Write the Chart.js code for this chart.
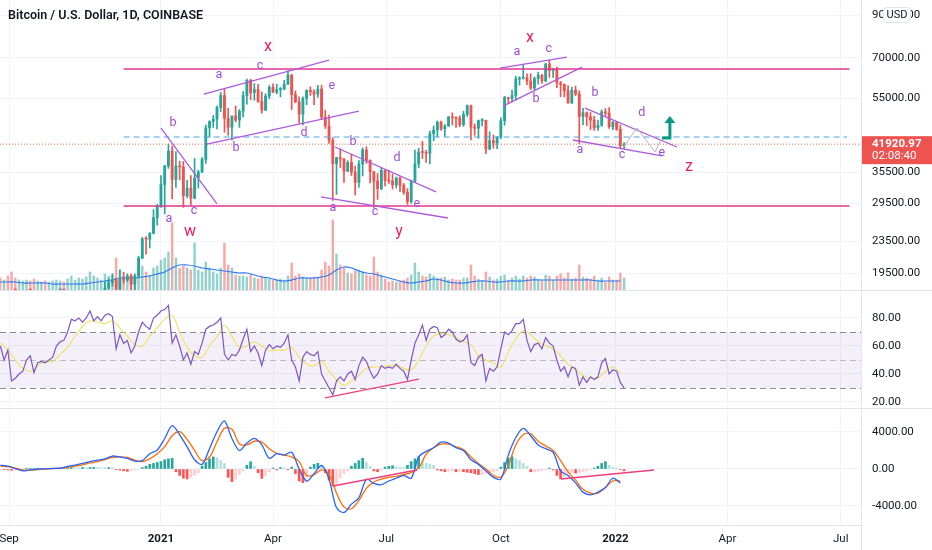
<!DOCTYPE html>
<html>
<head>
<meta charset="utf-8">
<title>BTCUSD 1D</title>
<script src="https://cdn.jsdelivr.net/npm/chart.js@4.4.1/dist/chart.umd.min.js"></script>
<style>
  body { margin: 0; width: 932px; height: 550px; overflow: hidden; background: #fff; font-family: Roboto, sans-serif; }
  .pane { position: absolute; left: 0; width: 932px; }
  .sep { position: absolute; left: 0; width: 932px; height: 1px; background: #e0e3eb; }
  #vsep { position: absolute; left: 861px; top: 0; width: 1px; height: 550px; background: #e0e3eb; }
  #title { position: absolute; left: 8px; top: 6px; line-height: 18px; font-size: 12.5px; font-weight: 600; color: #131722; }
  #usd { position: absolute; left: 883px; top: 7px; width: 28px; height: 16px; box-sizing: border-box;
         border: 1px solid #e0e3eb; border-radius: 4px; background: #fff; color: #131722;
         font-size: 11px; line-height: 14px; text-align: center; }
</style>
</head>
<body>
<div class="pane" style="top:0;height:290px"><canvas id="priceChart"></canvas></div>
<div class="sep" style="top:290px"></div>
<div class="pane" style="top:292px;height:116px"><canvas id="rsiChart"></canvas></div>
<div class="sep" style="top:408px"></div>
<div class="pane" style="top:409px;height:141px"><canvas id="macdChart"></canvas></div>
<div id="vsep"></div>
<div id="title">Bitcoin / U.S. Dollar, 1D, COINBASE</div>
<div id="usd">USD</div>
<script>
// Candles are 3-day bars; days are counted from 1 Jan 2021
const firstDay = -129;   // 25 Aug 2020
const stepDays = 3;

// [open, high, low, close]
const ohlc = [
  [11760,11800,11120,11330],[11330,11720,11280,11710],[11710,12090,11200,11410],[11410,11460,9880,10170],
  [10170,10400,9880,10130],[10130,10580,10010,10400],[10400,10800,10210,10680],[10680,11100,10660,10940],
  [10940,11180,10830,10920],[10920,10990,10140,10240],[10240,10790,10200,10730],[10730,10940,10630,10840],
  [10840,10930,10400,10570],[10570,10800,10500,10790],[10790,10950,10530,10920],[10920,11480,10870,11380],
  [11380,11720,11260,11430],[11430,11620,11250,11370],[11370,12000,11360,11920],[11920,13220,11900,12930],
  [12930,13350,12880,13070],[13070,13790,12920,13460],[13460,14080,13220,13740],[13740,14250,13240,14130],
  [14130,15960,14090,14830],[14830,15960,14720,15300],[15300,16480,15280,16320],[16320,16730,15800,16720],
  [16720,18480,16630,17820],[17820,18820,17700,18420],[18420,19420,18030,18730],[18730,18920,16330,17720],
  [17720,19860,17520,18790],[18790,19580,18330,18700],[18700,19410,18550,19170],[19170,19290,17650,18250],
  [18250,19400,17590,19170],[19170,21560,19000,21310],[21310,24100,21230,23870],[23870,24230,21820,23830],
  [23830,24800,22630,24680],[24680,28400,24600,27080],[27080,29300,25900,29000],[29000,34800,28800,33000],
  [33000,37000,27700,36820],[36820,41950,36300,40240],[40240,41400,30300,34000],[34000,40100,32400,36830],
  [36830,37900,33900,36630],[36630,37850,28800,30850],[30850,33800,30500,32290],[32290,34800,29200,30400],
  [30400,38500,30300,34300],[34300,35900,32300,35520],[35520,38700,35400,38290],[38290,47000,37400,46200],
  [46200,48200,43700,47970],[47970,49700,46300,48630],[48630,52600,45900,52120],[52120,57000,50900,55970],
  [55970,58300,45000,48890],[48890,51900,44200,46340],[46340,48400,43000,49590],[49590,52600,47800,48370],
  [48370,51500,46300,50970],[50970,57300,49300,55960],[55960,61700,53200,61240],[61240,61700,54600,56900],
  [56900,60100,54400,58030],[58030,59800,53700,54080],[54080,57200,50400,51290],[51290,56600,51200,55780],
  [55780,59400,54900,58800],[58800,60000,56900,57060],[57060,59800,56500,57990],[57990,58700,55500,58100],
  [58100,61200,57900,59860],[59860,64900,59800,63160],[63160,63500,51500,56250],[56250,57500,53600,53900],
  [53900,55500,47500,50100],[50100,55500,47000,55000],[55000,57900,53000,57750],[57750,58900,56000,57200],
  [57200,58000,53000,56400],[56400,59500,55300,58200],[58200,59500,48600,49200],[49200,51300,46000,46700],
  [46700,49800,42100,42900],[42900,43600,30000,37300],[37300,38800,31100,38700],[38700,40800,36500,38400],
  [38400,38500,33400,35700],[35700,38000,35600,37600],[37600,39500,34800,35500],[35500,36800,31000,33400],
  [33400,38000,32400,37300],[37300,41000,34700,40500],[40500,41300,37400,38100],[38100,38200,33300,35600],
  [35600,35700,28800,33700],[33700,35200,30200,32200],[32200,36400,32000,35900],[35900,36000,32700,33800],
  [33800,35900,33200,33700],[33700,35100,32100,32900],[32900,34500,32300,34300],[34300,34600,31600,32800],
  [32800,33200,31100,31500],[31500,32200,29300,29800],[29800,33900,29500,33600],[33600,40500,33500,37300],
  [37300,40900,36400,40000],[40000,42600,38500,39900],[39900,40400,37600,39700],[39700,45300,37300,44600],
  [44600,46700,42800,45600],[45600,48100,43800,47800],[47800,48100,45500,45900],[45900,47100,43900,46700],
  [46700,49400,46600,49300],[49300,50500,47000,49000],[49000,49300,46300,48900],[48900,49600,46500,47100],
  [47100,51000,46600,50000],[50000,52900,49400,52700],[52700,52900,43000,46400],[46400,47300,44200,46100],
  [46100,48400,43400,48200],[48200,48800,46700,48300],[48300,48400,39600,40700],[40700,45100,40600,42800],
  [42800,44300,40900,42200],[42200,42800,40800,43800],[43800,49000,43300,48200],[48200,55700,46900,55300],
  [55300,55400,53400,55000],[55000,57800,53900,56000],[56000,62800,54400,61700],[61700,62600,59500,62000],
  [62000,67000,61700,62200],[62200,63700,59700,61000],[61000,63700,58000,58500],[58500,62500,57900,61900],
  [61900,64300,59900,63200],[63200,63500,60100,61000],[61000,67800,60800,67500],[67500,69000,62300,64900],
  [64900,65600,62300,65500],[65500,66300,58600,60300],[60300,60900,55600,59800],[59800,60000,55500,57600],
  [57600,59400,53400,53600],[53600,58800,53300,57800],[57800,59200,55900,56500],[56500,57600,42000,49400],
  [49400,51900,47100,50500],[50500,50800,46800,49300],[49300,50600,45700,48400],[48400,49500,45500,46200],
  [46200,48400,45500,46900],[46900,51400,46600,50800],[50800,51800,49500,50400],[50400,52100,46000,46500],
  [46500,48000,45700,47700],[47700,47900,45500,45800],[45800,47000,41000,41500],[41500,42300,40800,41920]
];

// volume, one per candle (scaled units)
const volume = [
  12,10,14,18,12,10,9,10,9,11,9, 8,9,8,9,10,9,8,11,14,10, 12,11,13,18,14,12,10,16,14,15,
  32,20,14,12,16,12,18,24,18,15,22,24, 30,32,38,67,32,22,24,22,20,47, 20,18,28,22,18,16,22,47,25,22,
  15,14,14,13,15,12,11,14,13,11, 10,10,11,10,14,27,14,16,13,12, 11,13,12,20,28,24,70,36,25,22,
  17,16,19,20,18,15,14,33,18,15, 11,8,9,8,9,10,12,15,27,18, 14,13,16,14,12,12,13,10,11,10,
  10,12,12,25,14,11,9,18,13,10, 11,14,15,10,12,14,11,14,12,14, 13,11,10,15,14,10,14,16,12,17,
  11,12,25,13,12,11,14,10,12,8, 13,10,10,17,12
];
// the series below are sampled every second candle
const volumeMa = [
  8,8,8,7,7,7,7,6,6,6, 6,6,7,8,9,10,12,12,12,13, 14,16,18,22,25,25,24,22,21,20,
  19,18,17,17,15,13,12,10,9,10, 12,12,12,13,15,20,23,22,19,17, 16,14,12,10,8,7,8,9,11,10,
  8,7,7,8,9,9,8,8,9,9, 9,10,10,10,10,10,10,10,10,10, 9,9,9,9
];

const rsi = [
  60,50,57,35,37,40,42,50,53,41, 48,49,48,50,52,60,63,64,70,79, 78,80,77,80,85,78,81,78,82,83,
  81,58,68,62,64,55,60,70,77,74, 72,80,82,85,86,89,62,68,60,50, 55,47,56,54,62,72,74,75,77,80,
  54,50,54,53,57,65,72,56,60,55, 46,57,61,58,60,59,62,68,50,45, 35,52,56,54,53,56,40,35,30,25,
  35,38,35,40,42,36,46,52,49,42, 37,40,46,44,45,44,47,44,42,36, 50,62,68,75,64,72,74,73,66,68,
  72,70,65,63,64,68,48,46,52,54, 35,44,42,45,58,70,68,71,76,76, 79,64,56,61,62,58,66,62,60,50,
  42,45,38,45,44,32,38,34,38,36, 38,48,51,40,43,42,34,30
];
const rsiMa = [
  62,57,50,44,42,46,49,49,54,59, 67,74,78,77,76,78,73,67,61,60, 67,73,79,82,70,59,53,52,60,67,
  75,67,59,60,63,60,57,57,57,59, 52,47,46,49,42,36,32,35,39,44, 45,45,46,46,44,43,50,60,67,69,
  68,66,63,61,53,50,48,45,56,65, 71,68,63,60,58,53,47,43,39,37, 37,42,45,41
];

const macdLine = [
  430,300,50,-200,-100,0,20,60,80,280, 420,600,800,950,1100,1400,1300,1150,850,900,
  1650,2050,3300,4680,3700,2400,1000,500,2200,4030, 5200,3300,2000,2800,3300,2600,1150,1650,1500,1800,
  0,-1300,-500,400,-1100,-4200,-4700,-3800,-3100,-1100, -1550,-1700,-1300,-1000,-700,-1000,1300,1900,2300,2900,
  2800,2300,2000,1000,500,-200,-900,-1100,1500,3400, 4400,3600,2600,2200,1800,-200,-700,-1500,-2500,-2800,
  -2500,-2000,-1000,-1500
];
const signalLine = [
  320,250,100,-100,-120,-60,0,50,100,180, 300,450,650,800,1000,1250,1300,1250,950,800,
  1100,1650,2400,3600,4030,3200,2000,900,1300,2950, 4400,4300,2700,2600,3000,2900,2200,1700,1500,1300,
  800,-700,-600,-100,-600,-2600,-4100,-4300,-3400,-2100, -1400,-1100,-900,-800,-600,-400,100,1600,2300,2700,
  2700,2400,2100,1300,600,0,-700,-900,400,2600, 3700,3800,3000,2500,2000,900,-300,-1200,-2200,-2600,
  -2600,-2000,-1300,-1300
];
// histogram, one per candle
const histogram = [
  -60,-80,-100,-150,-120,-80,-40,20,40, 50,60,40,20, 0,10,10,20,40,
  100,150,130,120,160,140,150,180,160,130,120,150,140, -80,-120,-200,-250,-150,-100,-50,
  150,300,500,600,700,800,1000,1100,1150, -300,-700,-1000,-1080,-900,-700,-400,
  300,700,1100,1300,1200,900,600, -900,-1370,-1100,-600,-200, 400,790,300, -400,-1010,-700,-300,
  100,-100,150,100,-80,200, -500,-1300,-1480,-900, 200,500,610,400,
  -400,-1200,-1840,-1600,-1000,-500,-200, 300,600,900,1150,700,300, -200,-300,-100,
  200,300,350,250,200,150, 400,800,1100,1330,900,600,500,400,
  -100,-200,-300,-250,-200,-300,-250,-300,-350, -400,-500,-600,-600,-500,-400,-300,-200,200,
  700,1200,1330,1100,900,600,300, -300,-300,-250,-200,-100, 100,-100, -700,-1080,-800,
  -500,-400,-450,-400,-300,-200,-100, 100,300,600,790, 400,200,100,-50, -200
];

const monthTicks = [-122, 0, 90, 181, 273, 365, 455, 546];
const monthLabels = ['Sep', '2021', 'Apr', 'Jul', 'Oct', '2022', 'Apr', 'Jul'];
const yearTicks = [0, 365];
const priceTicks = [19500, 23500, 29500, 35500, 55000, 70000, 90000];
const rsiTicks = [20, 40, 60, 80];
const macdTicks = [-4000, 0, 4000];
const rsiLevels = [70, 50, 30];
const lastPrice = 41920.97;
const countdown = '02:08:40';

// drawings, in [day, value]
const boxLevels = [65470, 29040];
const boxSpan = [-30, 553];
const blueLevel = 43740;
const blueSpan = [-30, 551];
const trendLines = [
  [0, 46140, 45, 29390],
  [34.5, 56440, 135, 69050],
  [36.9, 41960, 159, 51030],
  [139.8, 41220, 220.9, 31560],
  [128.5, 30640, 230.5, 27040],
  [272.3, 65860, 326.1, 70300],
  [274.7, 52570, 338.2, 66250],
  [340.6, 51950, 414.5, 41220],
  [330.9, 42970, 402.4, 39080]
];
const projection = [[371, 40980], [382.3, 46140], [396.8, 40020], [401.6, 42970]];
const arrowPath = [[402.4, 43480], [408.8, 43480], [408.8, 47810]];
const waveLabels = [
  ['a', 46.6, 63180], ['c', 79.5, 66640], ['b', 9.6, 47530], ['b', 60.2, 40980], ['d', 114.9, 44790],
  ['a', 6.4, 26880], ['c', 26.5, 28190], ['e', 137.3, 59180], ['b', 154.2, 42460], ['d', 189.6, 38620],
  ['a', 138.2, 28700], ['c', 171.9, 28020], ['e', 205.6, 29390], ['a', 285.9, 72400], ['c', 311.6, 73700],
  ['b', 301.2, 54800], ['b', 348.6, 56780], ['d', 386.3, 50430], ['a', 336.5, 40490], ['c', 370.3, 39310],
  ['e', 402.4, 39780]
];
const degreeLabels = [
  ['x', 85.9, 74600], ['w', 23.3, 24880], ['y', 191.2, 24880], ['x', 296.4, 78700], ['z', 424.1, 36610]
];
const rsiTrend = [131.7, 22.9, 207.2, 36.4];
const macdTrends = [[138.2, -1838, 205.6, -108], [321.3, -1081, 396, -108]];

// ---- helpers ----
const dayOf = i => firstDay + stepDays * i;
const everyOther = i => firstDay + 2 * stepDays * i;
const isUp = i => ohlc[i][3] >= ohlc[i][0];

const upColor = '#26a69a';
const downColor = '#ef5350';
const gridColor = '#f0f3fa';
const textColor = '#131722';
const axisFont = { family: 'Roboto', size: 11.5 };

function line(ctx, x1, y1, x2, y2) {
  ctx.beginPath();
  ctx.moveTo(x1, y1);
  ctx.lineTo(x2, y2);
  ctx.stroke();
}

function tickFont(ctx) {
  const isYear = ctx && ctx.tick && yearTicks.includes(ctx.tick.value);
  return { family: 'Roboto', size: 11.5, weight: isYear ? 'bold' : 'normal' };
}

function timeAxis(showLabels) {
  return {
    type: 'linear',
    min: -129.3,
    max: 563.1,
    offset: false,
    grid: { color: gridColor, drawTicks: false, offset: false },
    border: { display: showLabels, color: '#e0e3eb' },
    afterBuildTicks: s => { s.ticks = monthTicks.map(v => ({ value: v })); },
    afterFit: s => { s.height = showLabels ? 25 : 0; s.paddingLeft = 0; s.paddingRight = 0; },
    ticks: {
      display: showLabels,
      autoSkip: false,
      maxRotation: 0,
      padding: 7,
      color: textColor,
      font: tickFont,
      callback: v => monthLabels[monthTicks.indexOf(v)]
    }
  };
}

function valueAxis(type, min, max, ticks) {
  return {
    type: type,
    position: 'right',
    min: min,
    max: max,
    grid: { color: gridColor, drawTicks: false },
    border: { display: false },
    afterBuildTicks: s => { s.ticks = ticks.map(v => ({ value: v })); },
    afterFit: s => { s.width = 70; s.paddingTop = 0; s.paddingBottom = 0; },
    ticks: { padding: 10, color: textColor, font: axisFont, callback: v => Number(v).toFixed(2) }
  };
}

const common = {
  responsive: true,
  maintainAspectRatio: false,
  animation: false,
  events: [],
  layout: { padding: 0 },
  plugins: { legend: { display: false }, tooltip: { enabled: false } }
};

// ---- price pane ----
const priceDrawings = {
  id: 'priceDrawings',
  afterDatasetsDraw(chart) {
    const { ctx, chartArea: a, scales: { x, y } } = chart;
    const px = d => x.getPixelForValue(d);
    const py = p => y.getPixelForValue(p);
    ctx.save();
    ctx.beginPath();
    ctx.rect(a.left, a.top, a.right - a.left, a.bottom - a.top);
    ctx.clip();

    // last price line
    ctx.strokeStyle = '#ef6a4a';
    ctx.lineWidth = 1;
    ctx.setLineDash([1, 2]);
    line(ctx, a.left, py(lastPrice), a.right, py(lastPrice));

    // blue dashed level
    ctx.strokeStyle = '#4ea3e6';
    ctx.setLineDash([6, 4]);
    line(ctx, px(blueSpan[0]), py(blueLevel), px(blueSpan[1]), py(blueLevel));
    ctx.setLineDash([]);

    // range box
    ctx.strokeStyle = '#e0378f';
    ctx.lineWidth = 1.5;
    boxLevels.forEach(p => line(ctx, px(boxSpan[0]), py(p), px(boxSpan[1]), py(p)));

    // trend lines
    ctx.strokeStyle = '#ad5bdc';
    ctx.lineWidth = 1.3;
    trendLines.forEach(t => line(ctx, px(t[0]), py(t[1]), px(t[2]), py(t[3])));

    // projected path
    ctx.strokeStyle = '#b2b5be';
    ctx.lineWidth = 1;
    ctx.beginPath();
    projection.forEach((p, i) => i ? ctx.lineTo(px(p[0]), py(p[1])) : ctx.moveTo(px(p[0]), py(p[1])));
    ctx.stroke();

    // breakout arrow
    ctx.strokeStyle = '#089981';
    ctx.fillStyle = '#089981';
    ctx.lineWidth = 3;
    ctx.beginPath();
    arrowPath.forEach((p, i) => i ? ctx.lineTo(px(p[0]), py(p[1])) : ctx.moveTo(px(p[0]), py(p[1])));
    ctx.stroke();
    const tip = arrowPath[arrowPath.length - 1];
    const tx = px(tip[0]), ty = py(tip[1]);
    ctx.beginPath();
    ctx.moveTo(tx, ty - 6);
    ctx.lineTo(tx - 5.5, ty + 1);
    ctx.lineTo(tx + 5.5, ty + 1);
    ctx.closePath();
    ctx.fill();

    // wave labels
    ctx.textAlign = 'center';
    ctx.textBaseline = 'middle';
    ctx.fillStyle = '#9c4fd6';
    ctx.font = '12.5px Roboto';
    waveLabels.forEach(l => ctx.fillText(l[0], px(l[1]), py(l[2])));
    ctx.fillStyle = '#e91e63';
    ctx.font = '16px Roboto';
    degreeLabels.forEach(l => ctx.fillText(l[0], px(l[1]), py(l[2])));
    ctx.restore();
  },
  afterDraw(chart) {
    const { ctx, chartArea: a, scales: { y } } = chart;
    const yy = y.getPixelForValue(lastPrice);
    ctx.save();
    ctx.fillStyle = '#ef5350';
    ctx.fillRect(a.right, yy - 8, chart.width - a.right, 28);
    ctx.fillStyle = '#fff';
    ctx.textAlign = 'left';
    ctx.textBaseline = 'middle';
    ctx.font = 'bold 11.5px Roboto';
    ctx.fillText(lastPrice.toFixed(2), a.right + 10, yy);
    ctx.font = '11.5px Roboto';
    ctx.fillText(countdown, a.right + 10, yy + 12);
    ctx.restore();
  }
};

new Chart(document.getElementById('priceChart'), {
  type: 'bar',
  data: {
    datasets: [
      {
        label: 'Body',
        order: 1,
        grouped: false,
        data: ohlc.map((c, i) => ({ x: dayOf(i), y: [c[0], c[3]] })),
        yAxisID: 'y',
        barThickness: 2.2,
        minBarLength: 1,
        backgroundColor: ctx => isUp(ctx.dataIndex) ? upColor : downColor
      },
      {
        label: 'Wick',
        order: 2,
        grouped: false,
        data: ohlc.map((c, i) => ({ x: dayOf(i), y: [c[2], c[1]] })),
        yAxisID: 'y',
        barThickness: 1,
        backgroundColor: ctx => isUp(ctx.dataIndex) ? upColor : downColor
      },
      {
        type: 'line',
        label: 'Volume MA',
        order: 3,
        data: volumeMa.map((v, i) => ({ x: everyOther(i), y: v })),
        yAxisID: 'vol',
        borderColor: '#3179f5',
        borderWidth: 1.2,
        pointRadius: 0,
        tension: 0.35
      },
      {
        label: 'Volume',
        order: 4,
        grouped: false,
        data: volume.map((v, i) => ({ x: dayOf(i), y: v })),
        yAxisID: 'vol',
        barThickness: 1.8,
        backgroundColor: ctx => isUp(ctx.dataIndex) ? 'rgba(38,166,154,0.5)' : 'rgba(239,83,80,0.5)'
      }
    ]
  },
  options: Object.assign({}, common, {
    scales: {
      x: timeAxis(false),
      y: valueAxis('logarithmic', 17630, 98700, priceTicks),
      vol: { type: 'linear', display: false, min: 0, max: 290 }
    }
  }),
  plugins: [priceDrawings]
});

// ---- RSI pane ----
const rsiDrawings = {
  id: 'rsiDrawings',
  beforeDatasetsDraw(chart) {
    const { ctx, chartArea: a, scales: { y } } = chart;
    ctx.save();
    ctx.fillStyle = 'rgba(126,87,194,0.09)';
    ctx.fillRect(a.left, y.getPixelForValue(rsiLevels[0]), a.right - a.left,
      y.getPixelForValue(rsiLevels[2]) - y.getPixelForValue(rsiLevels[0]));
    ctx.lineWidth = 1;
    ctx.setLineDash([6, 4]);
    rsiLevels.forEach((lv, i) => {
      ctx.strokeStyle = i === 1 ? 'rgba(120,123,134,0.45)' : '#8a8d96';
      const yy = Math.round(y.getPixelForValue(lv)) + 0.5;
      line(ctx, a.left, yy, a.right, yy);
    });
    ctx.restore();
  },
  afterDatasetsDraw(chart) {
    const { ctx, scales: { x, y } } = chart;
    ctx.save();
    ctx.strokeStyle = '#ec407a';
    ctx.lineWidth = 1.3;
    line(ctx, x.getPixelForValue(rsiTrend[0]), y.getPixelForValue(rsiTrend[1]),
      x.getPixelForValue(rsiTrend[2]), y.getPixelForValue(rsiTrend[3]));
    ctx.restore();
  }
};

new Chart(document.getElementById('rsiChart'), {
  type: 'line',
  data: {
    datasets: [
      {
        label: 'RSI',
        data: rsi.map((v, i) => ({ x: dayOf(i), y: v })),
        borderColor: '#7e57c2',
        borderWidth: 1.2,
        pointRadius: 0,
        tension: 0
      },
      {
        label: 'RSI MA',
        data: rsiMa.map((v, i) => ({ x: everyOther(i), y: v })),
        borderColor: '#f0e060',
        borderWidth: 1.1,
        pointRadius: 0,
        tension: 0.35
      }
    ]
  },
  options: Object.assign({}, common, {
    scales: {
      x: timeAxis(false),
      y: valueAxis('linear', 15.71, 98.57, rsiTicks)
    }
  }),
  plugins: [rsiDrawings]
});

// ---- MACD pane ----
const macdDrawings = {
  id: 'macdDrawings',
  afterDatasetsDraw(chart) {
    const { ctx, scales: { x, y } } = chart;
    ctx.save();
    ctx.strokeStyle = '#ec407a';
    ctx.lineWidth = 1.3;
    macdTrends.forEach(t => line(ctx, x.getPixelForValue(t[0]), y.getPixelForValue(t[1]),
      x.getPixelForValue(t[2]), y.getPixelForValue(t[3])));
    ctx.restore();
  }
};

function histColor(i) {
  const h = histogram[i];
  const prev = i > 0 ? histogram[i - 1] : h;
  if (h >= 0) return h >= prev ? '#26a69a' : '#b2dfdb';
  return h < prev ? '#ff5252' : '#ffcdd2';
}

new Chart(document.getElementById('macdChart'), {
  type: 'bar',
  data: {
    datasets: [
      {
        type: 'line',
        label: 'MACD',
        order: 1,
        data: macdLine.map((v, i) => ({ x: everyOther(i), y: v })),
        borderColor: '#2962ff',
        borderWidth: 1.3,
        pointRadius: 0,
        tension: 0.3
      },
      {
        type: 'line',
        label: 'Signal',
        order: 2,
        data: signalLine.map((v, i) => ({ x: everyOther(i), y: v })),
        borderColor: '#ff6d00',
        borderWidth: 1.3,
        pointRadius: 0,
        tension: 0.35
      },
      {
        label: 'Histogram',
        order: 3,
        grouped: false,
        data: histogram.map((v, i) => ({ x: dayOf(i), y: v })),
        barThickness: 2,
        backgroundColor: ctx => histColor(ctx.dataIndex)
      }
    ]
  },
  options: Object.assign({}, common, {
    scales: {
      x: timeAxis(true),
      y: valueAxis('linear', -6054, 6486, macdTicks)
    }
  }),
  plugins: [macdDrawings]
});
</script>
</body>
</html>
